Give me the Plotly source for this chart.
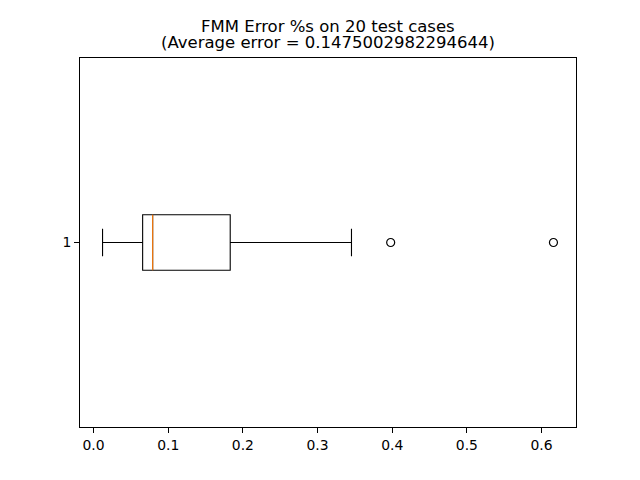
import plotly.graph_objects as go

# Box statistics (FMM error %s on 20 test cases)
positions = [1]
q1_vals = [0.0658]
median_vals = [0.0792]
q3_vals = [0.1831]
lower_fence = [0.0121]
upper_fence = [0.3455]
outlier_vals = [0.398, 0.616]
outlier_pos = [1, 1]
xtick_vals = [0.0, 0.1, 0.2, 0.3, 0.4, 0.5, 0.6]
ytick_labels = ["1"]
title_lines = ["FMM Error %s on 20 test cases", "(Average error = 0.1475002982294644)"]

box_width = 0.15
font_family = "DejaVu Sans"

fig = go.Figure()
fig.add_trace(go.Box(
    y=positions, q1=q1_vals, median=median_vals, q3=q3_vals,
    lowerfence=lower_fence, upperfence=upper_fence,
    orientation="h", width=box_width, whiskerwidth=0.5,
    line=dict(color="black", width=1.1), fillcolor="rgba(0,0,0,0)",
    boxpoints=False, showlegend=False, hoverinfo="skip",
))
# orange median line on top
for p, m in zip(positions, median_vals):
    fig.add_trace(go.Scatter(
        x=[m, m], y=[p - box_width / 2, p + box_width / 2], mode="lines",
        line=dict(color="#ff7f0e", width=1.1), showlegend=False, hoverinfo="skip",
    ))
fig.add_trace(go.Scatter(
    x=outlier_vals, y=outlier_pos, mode="markers",
    marker=dict(symbol="circle-open", size=8, color="black", line=dict(width=1.2)),
    showlegend=False, hoverinfo="skip",
))

lo = min(lower_fence + outlier_vals)
hi = max(upper_fence + outlier_vals)
pad = (hi - lo) * 0.05

for text, shift in zip(title_lines, [32, 15.5]):
    fig.add_annotation(
        text=text, x=0.5, xref="paper", xanchor="center",
        y=1, yref="paper", yanchor="middle", yshift=shift,
        showarrow=False, font=dict(family=font_family, size=16.5, color="black"),
    )

fig.update_layout(
    width=640, height=480,
    margin=dict(l=72, r=72, t=50, b=61),
    paper_bgcolor="white", plot_bgcolor="white",
    font=dict(family=font_family, color="black", size=14),
    xaxis=dict(
        range=[lo - pad, hi + pad], tickvals=xtick_vals,
        ticktext=[f"{v:.1f}" for v in xtick_vals],
        showgrid=False, zeroline=False, showline=True, mirror=True,
        linecolor="black", linewidth=1, ticks="outside", ticklen=5,
        tickcolor="black", tickfont=dict(size=13.9),
    ),
    yaxis=dict(
        range=[0.5, 1.5], tickvals=positions, ticktext=ytick_labels,
        showgrid=False, zeroline=False, showline=True, mirror=True,
        linecolor="black", linewidth=1, ticks="outside", ticklen=5,
        tickcolor="black", tickfont=dict(size=13.9),
    ),
)

fig.write_html("out.html")
